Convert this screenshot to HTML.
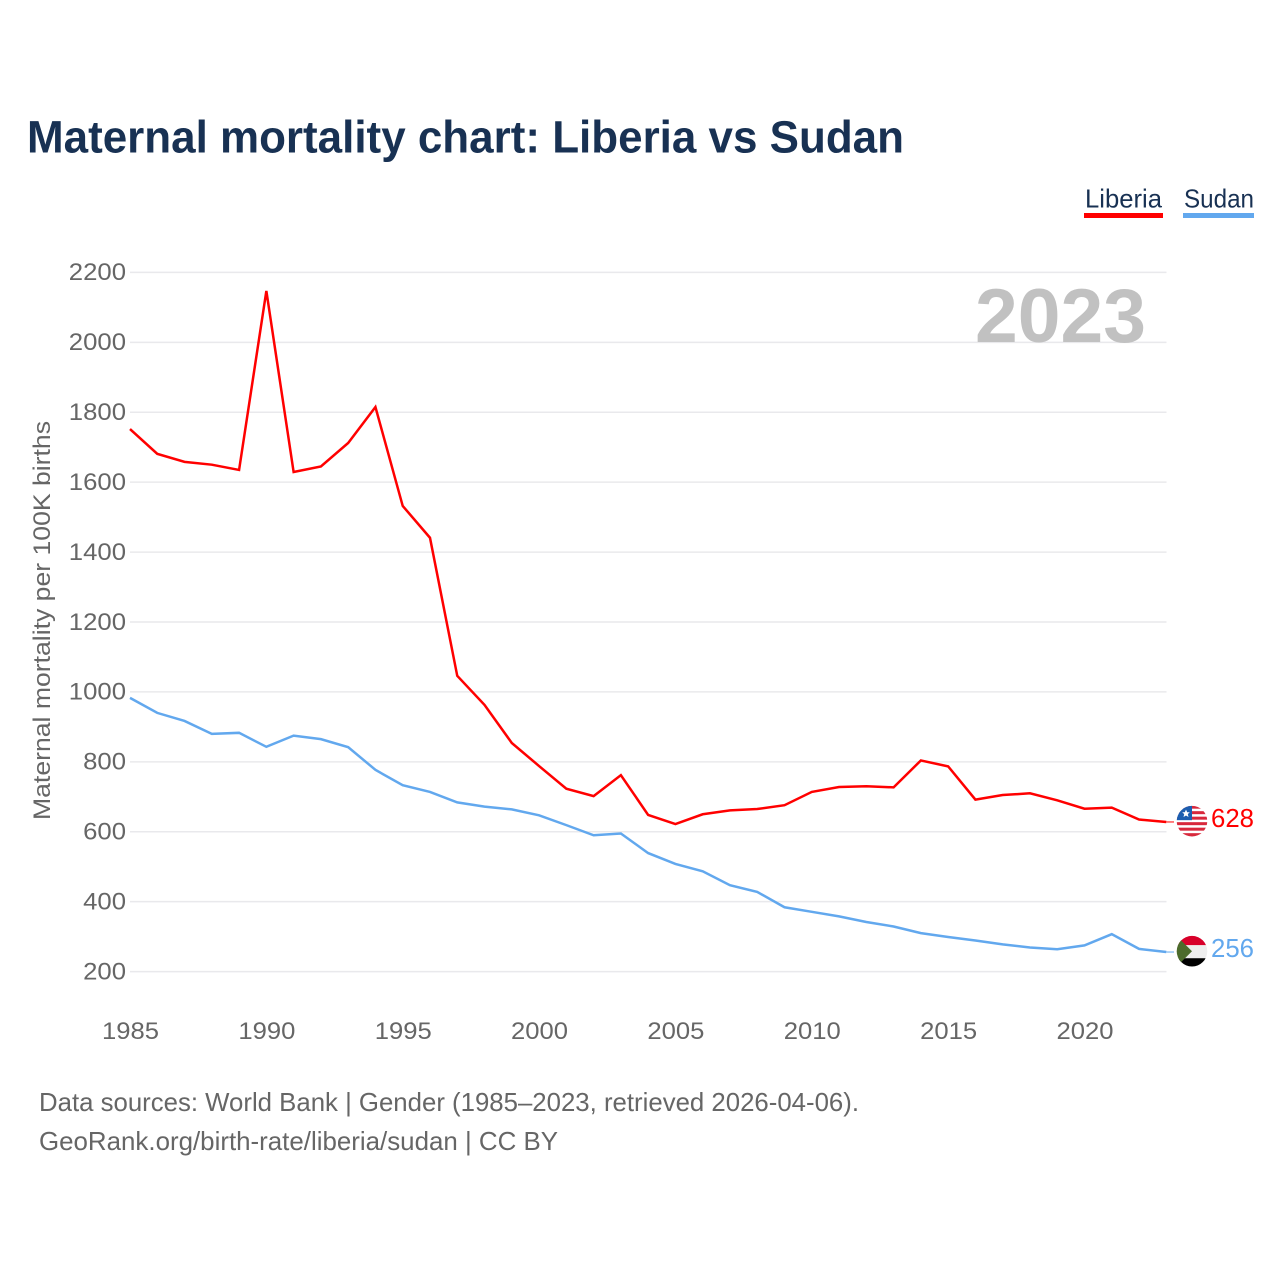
<!DOCTYPE html>
<html lang="en">
<head>
<meta charset="utf-8">
<title>Maternal mortality chart: Liberia vs Sudan</title>
<style>
html,body{margin:0;padding:0;background:#fff;}
svg{display:block;font-family:"Liberation Sans",sans-serif;}
</style>
</head>
<body>
<svg id="chart" xmlns="http://www.w3.org/2000/svg" width="1280" height="1280" viewBox="0 0 1280 1280">
  <defs>
    <clipPath id="flag-clip"><circle cx="0" cy="0" r="15.3"></circle></clipPath>
  </defs>
  <rect x="0" y="0" width="1280" height="1280" fill="#ffffff"></rect>

  <text x="27" y="152.500" font-size="45" font-weight="700" fill="#183153" textLength="877" lengthAdjust="spacingAndGlyphs">Maternal mortality chart: Liberia vs Sudan</text>

  <g>
    <g>
      <text x="1085" y="207.500" font-size="26" fill="#183153" textLength="77" lengthAdjust="spacingAndGlyphs">Liberia</text>
      <rect x="1084" y="213" width="79" height="5" fill="#ff0000"></rect>
    </g>
    <g>
      <text x="1184" y="207.500" font-size="26" fill="#183153" textLength="70" lengthAdjust="spacingAndGlyphs">Sudan</text>
      <rect x="1183" y="213" width="71" height="5" fill="#62a8ee"></rect>
    </g>
  </g>

  <g id="grid"></g>
  <text x="975" y="342" font-size="76" font-weight="700" fill="#c1c1c1" textLength="171" lengthAdjust="spacingAndGlyphs">2023</text>
  <g id="y-axis"></g>
  <g id="x-axis"></g>
  <text transform="translate(50,820) rotate(-90)" x="0" y="0" font-size="24" fill="#666666" textLength="399" lengthAdjust="spacingAndGlyphs">Maternal mortality per 100K births</text>
  <g id="series"></g>

  <g id="flag-liberia">
    <g clip-path="url(#flag-clip)">
      <rect x="-16" y="-16" width="32" height="32" fill="#ffffff"></rect>
      <rect x="-16" y="-15.500" width="32" height="3" fill="#d8283c"></rect>
      <rect x="-16" y="-10" width="32" height="3" fill="#d8283c"></rect>
      <rect x="-16" y="-4.500" width="32" height="3" fill="#d8283c"></rect>
      <rect x="-16" y="1" width="32" height="3" fill="#d8283c"></rect>
      <rect x="-16" y="6.500" width="32" height="3" fill="#d8283c"></rect>
      <rect x="-16" y="12" width="32" height="3.500" fill="#d8283c"></rect>
      <rect x="-16" y="-16" width="16" height="15" fill="#1c5eb0"></rect>
      <polygon points="-6,-11.500 -4.800,-8.900 -2.200,-8.900 -4.200,-7 -3.500,-4.200 -6,-5.700 -8.500,-4.200 -7.800,-7 -9.800,-8.900 -7.200,-8.900" fill="#ffffff"></polygon>
    </g>
  </g>
  <g id="flag-sudan">
    <g clip-path="url(#flag-clip)">
      <rect x="-16" y="-16" width="32" height="10" fill="#d8002a"></rect>
      <rect x="-16" y="-6" width="32" height="13" fill="#eeeeee"></rect>
      <rect x="-16" y="7" width="32" height="9" fill="#000000"></rect>
      <polygon points="-16,-16 0,0 -16,16" fill="#4c6b2c"></polygon>
    </g>
  </g>
  <text id="value-liberia" x="1211" font-size="26" fill="#ff0000" textLength="43" lengthAdjust="spacingAndGlyphs"></text>
  <text id="value-sudan" x="1211" font-size="26" fill="#62a8ee" textLength="43" lengthAdjust="spacingAndGlyphs"></text>

  <g>
    <text x="39" y="1111" font-size="26" fill="#666666" textLength="820" lengthAdjust="spacingAndGlyphs">Data sources: World Bank | Gender (1985–2023, retrieved 2026-04-06).</text>
    <text x="39" y="1150" font-size="26" fill="#666666" textLength="519" lengthAdjust="spacingAndGlyphs">GeoRank.org/birth-rate/liberia/sudan | CC BY</text>
  </g>
</svg>
<script>
const years = [1985,1986,1987,1988,1989,1990,1991,1992,1993,1994,1995,1996,1997,1998,1999,2000,2001,2002,2003,2004,2005,2006,2007,2008,2009,2010,2011,2012,2013,2014,2015,2016,2017,2018,2019,2020,2021,2022,2023];
const liberia = [1752,1681,1658,1650,1635,2147,1629,1645,1712,1815,1532,1441,1046,963,854,788,723,702,762,648,622,650,661,665,676,714,728,730,727,804,787,692,705,710,690,666,669,635,628];
const sudan = [983,940,917,880,883,843,875,865,842,777,733,714,684,672,664,647,619,590,595,539,508,487,447,428,384,371,358,342,329,310,299,289,278,269,264,275,307,265,256];
const yTicks = [200,400,600,800,1000,1200,1400,1600,1800,2000,2200];
const xTicks = [1985,1990,1995,2000,2005,2010,2015,2020];

const NS = 'http://www.w3.org/2000/svg';
function xScale(year){ return 130 + (year - 1985) * (1036.3 / 38); }
function yScale(value){ return 971.6 - (value - 200) * (699.2 / 2000); }
function make(tag, attrs, parent){
  const el = document.createElementNS(NS, tag);
  for (const k in attrs) el.setAttribute(k, attrs[k]);
  parent.appendChild(el);
  return el;
}

const grid = document.getElementById('grid');
const yAxis = document.getElementById('y-axis');
const xAxis = document.getElementById('x-axis');
const seriesGroup = document.getElementById('series');

yTicks.forEach(function(t){
  const line = make('line', {x1:130, x2:1166.5, y1:yScale(t), y2:yScale(t), stroke:'#e9e9ec', 'stroke-width':1.5}, grid);
  
  
  const label = make('text', {x:126, y:yScale(t) + 7.8, 'text-anchor':'end', 'font-size':24, fill:'#666666', textLength:String(t).length * 14.3, lengthAdjust:'spacingAndGlyphs'}, yAxis);
  
  
  label.textContent = t;
});

xTicks.forEach(function(t){
  const label = make('text', {x:xScale(t) + 0.5, y:1039, 'text-anchor':'middle', 'font-size':24, fill:'#666666', textLength:57, lengthAdjust:'spacingAndGlyphs'}, xAxis);
  
  
  label.textContent = t;
});

function drawSeries(values, color, key){
  const pts = values.map(function(v, i){ return xScale(years[i]).toFixed(2) + ',' + yScale(v).toFixed(2); }).join(' ');
  const line = make('polyline', {points:pts, fill:'none', stroke:color, 'stroke-width':2.5, 'stroke-linejoin':'miter'}, seriesGroup);
  
  
  const last = values[values.length - 1];
  const yEnd = yScale(last);
  const lead = make('line', {x1:xScale(years[years.length - 1]), x2:1174, y1:yEnd, y2:yEnd, stroke:color, 'stroke-width':1}, seriesGroup);
  
  
  document.getElementById('flag-' + key).setAttribute('transform', 'translate(1192,' + (yEnd - 0.8).toFixed(2) + ')');
  const val = document.getElementById('value-' + key);
  val.setAttribute('y', (yEnd + 5.2).toFixed(2));
  val.textContent = last;
}
drawSeries(liberia, '#ff0000', 'liberia');
drawSeries(sudan, '#62a8ee', 'sudan');
</script>
</body>
</html>
